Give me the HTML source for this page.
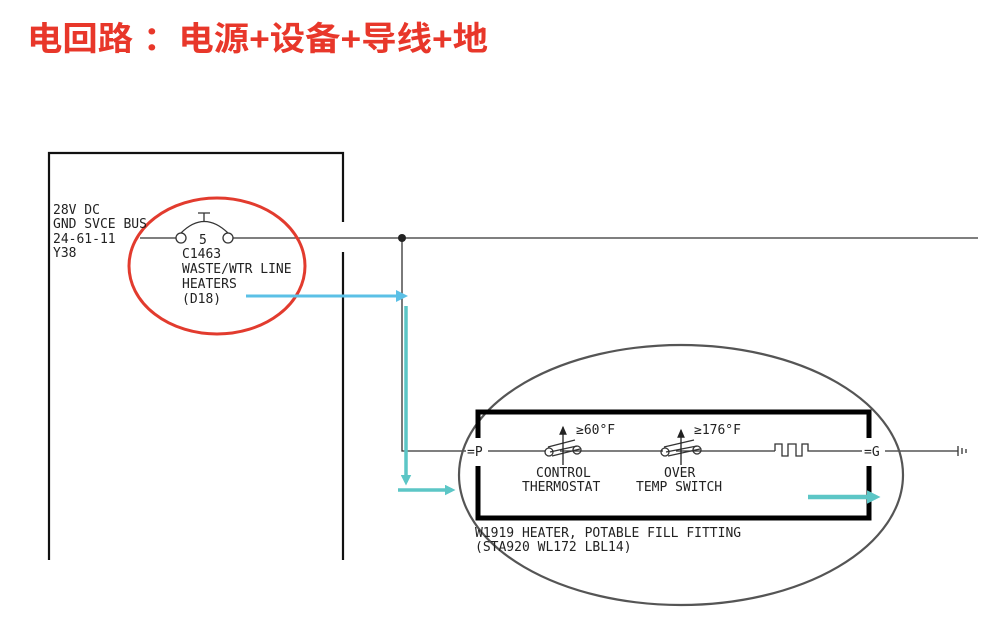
<!DOCTYPE html>
<html><head><meta charset="utf-8"><style>
body{margin:0;background:#fff;width:999px;height:613px;overflow:hidden}
svg text{font-family:"DejaVu Sans Mono","Liberation Mono",monospace;fill:#222}
</style></head><body>
<svg width="999" height="613" viewBox="0 0 999 613" xmlns="http://www.w3.org/2000/svg">
<defs>
<marker id="ab" markerWidth="4" markerHeight="4" refX="3" refY="2" orient="auto" markerUnits="strokeWidth"><path d="M0,0 L4,2 L0,4z" fill="#5bc0e6"/></marker>
<marker id="at" markerWidth="3" markerHeight="3" refX="2" refY="1.5" orient="auto" markerUnits="strokeWidth"><path d="M0,0 L3,1.5 L0,3z" fill="#5cc6c6"/></marker>
<marker id="ak" markerWidth="8" markerHeight="8" refX="6" refY="4" orient="auto" markerUnits="strokeWidth"><path d="M0,1 L7,4 L0,7z" fill="#222"/></marker>
</defs>
<text x="27" y="50" textLength="461" lengthAdjust="spacingAndGlyphs" style="font-family:'Liberation Sans','Noto Sans CJK SC',sans-serif;font-weight:bold;font-size:33px;fill:#e8372a">电回路 ：电源+设备+导线+地</text>
<g stroke="#111" stroke-width="2.2" fill="none">
<path d="M49,560 V153 H343 V222"/><path d="M343,252 V560"/>
</g>
<g stroke="#333" stroke-width="1.3" fill="none">
<path d="M140,238 H176"/><path d="M233,238 H978"/>
<circle cx="181" cy="238" r="5"/><circle cx="228" cy="238" r="5"/>
<path d="M181,233 Q204,210 228,233"/><path d="M204,221 V213 M198,213 H210"/>
<path d="M402,238 V451 H466"/><path d="M488,451 H545"/><path d="M560,451 H663"/><path d="M676,451 H775"/>
<path d="M775,451 V444 H782 V456 H788 V444 H796 V456 H802 V444 H808 V451 H862"/>
<path d="M885,451 H958 M958,446 V456 M962,448 V454 M966,449 V453"/>
<circle cx="549" cy="452" r="4"/><circle cx="577" cy="450" r="4"/>
<path d="M548,447 L575,440 M550,452 L577,446 M552,456 L580,449"/>
<circle cx="665" cy="452" r="4"/><circle cx="697" cy="450" r="4"/>
<path d="M664,447 L694,440 M666,452 L697,446 M668,456 L700,449"/>
</g>
<path d="M563,465 V427" stroke="#222" stroke-width="1.3" marker-end="url(#ak)"/>
<path d="M681,465 V430" stroke="#222" stroke-width="1.3" marker-end="url(#ak)"/>
<circle cx="402" cy="238" r="4" fill="#222"/>
<ellipse cx="217" cy="266" rx="88" ry="68" fill="none" stroke="#e23b2e" stroke-width="3"/>
<ellipse cx="681" cy="475" rx="222" ry="130" fill="none" stroke="#555" stroke-width="2.2"/>
<g stroke="#000" stroke-width="5" fill="none">
<path d="M478,438 V412 H869 V438"/><path d="M478,466 V518 H869 V466"/>
</g>
<g font-size="13">
<text x="53" y="214">28V DC</text><text x="53" y="228">GND SVCE BUS</text><text x="53" y="243">24-61-11</text><text x="53" y="257">Y38</text>
<text x="199" y="244">5</text>
<text x="182" y="258">C1463</text><text x="182" y="273">WASTE/WTR LINE</text><text x="182" y="288">HEATERS</text><text x="182" y="303">(D18)</text>
<text x="467" y="456">=P</text><text x="864" y="456">=G</text>
<text x="576" y="434">≥60°F</text><text x="694" y="434">≥176°F</text>
<text x="536" y="477">CONTROL</text><text x="522" y="491">THERMOSTAT</text>
<text x="664" y="477">OVER</text><text x="636" y="491">TEMP SWITCH</text>
<text x="475" y="537">W1919 HEATER, POTABLE FILL FITTING</text><text x="475" y="551">(STA920 WL172 LBL14)</text>
</g>
<path d="M246,296 H405" stroke="#5bc0e6" stroke-width="3" marker-end="url(#ab)"/>
<path d="M406,306 V482" stroke="#5cc6c6" stroke-width="3.5" marker-end="url(#at)"/>
<path d="M398,490 H452" stroke="#5cc6c6" stroke-width="3.5" marker-end="url(#at)"/>
<path d="M808,497 H876" stroke="#5cc6c6" stroke-width="4.5" marker-end="url(#at)"/>
</svg>
</body></html>
